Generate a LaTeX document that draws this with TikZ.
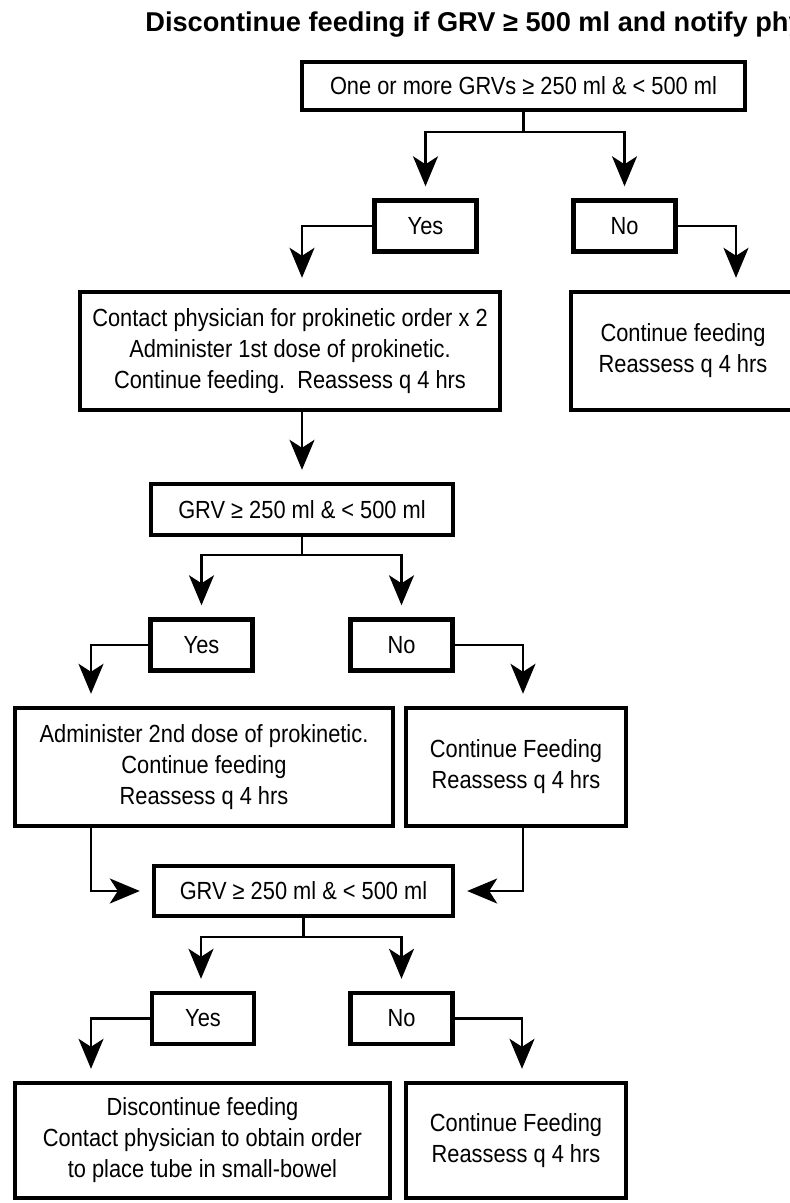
\documentclass[tikz,border=0pt]{standalone}
\usepackage{fontspec}
\setmainfont{Liberation Sans}[FakeStretch=0.88]
\newfontfamily\headfont{Liberation Sans}
\usetikzlibrary{arrows.meta}

\begin{document}
\begin{tikzpicture}[
        x=0.5pt, y=-0.5pt,
        every node/.style={font=\fontsize{12.4}{15.5}\selectfont},
        box/.style={rectangle, draw=black, line width=2.2pt, align=center, inner sep=0pt},
        answer/.style={box, minimum width=51pt, minimum height=25.5pt},
        flow/.style={-{Stealth[length=15pt, width=12.5pt, inset=4pt]}, line width=1.1pt, shorten >=6pt},
        link/.style={line width=1.1pt}
    ]
        \useasboundingbox (0,0) rectangle (790,1203);
        \clip (0,0) rectangle (790,1203);
        \fill[white] (0,0) rectangle (790,1203);

        \node[anchor=base west, inner sep=0pt, font=\headfont\bfseries\fontsize{13.6}{15}\selectfont] (title) at (145,32) {Discontinue feeding if GRV ≥ 500 ml and notify physician};

        \node[box, minimum width=221.5pt, minimum height=24pt] (gate) at (523.5,86) {One or more GRVs ≥ 250 ml \& < 500 ml};
        \node[answer] (yesA) at (425.5,226) {Yes};
        \node[answer] (noA) at (624.5,226) {No};

        \node[box, minimum width=210pt, minimum height=59pt] (prok) at (290,351) {Contact physician for prokinetic order x 2\\Administer 1st dose of prokinetic.\\Continue feeding.\ \ Reassess q 4 hrs};
        \node[box, minimum width=112pt, minimum height=59pt] (contA) at (683,351) {Continue feeding\\Reassess q 4 hrs};

        \node[box, minimum width=151pt, minimum height=25.5pt] (checkA) at (302,509.5) {GRV ≥ 250 ml \& < 500 ml};
        \node[answer] (yesB) at (201.5,645) {Yes};
        \node[answer] (noB) at (401.5,645) {No};

        \node[box, minimum width=189pt, minimum height=59pt] (dose) at (204,767) {Administer 2nd dose of prokinetic.\\Continue feeding\\Reassess q 4 hrs};
        \node[box, minimum width=110pt, minimum height=59pt] (contB) at (516,767) {Continue Feeding\\Reassess q 4 hrs};

        \node[box, minimum width=149.5pt, minimum height=25pt] (checkB) at (303.5,891) {GRV ≥ 250 ml \& < 500 ml};
        \node[answer] (yesC) at (203,1018.5) {Yes};
        \node[answer] (noC) at (401.5,1018.5) {No};

        \node[box, minimum width=187.5pt, minimum height=57.5pt] (stop) at (202.5,1140.5) {Discontinue feeding\\Contact physician to obtain order\\to place tube in small-bowel};
        \node[box, minimum width=110pt, minimum height=57.5pt] (contC) at (516,1140.5) {Continue Feeding\\Reassess q 4 hrs};

        % first question
        \draw[link] (gate.south) -- ++(0,20) coordinate (splitA);
        \draw[flow] (splitA) -| (yesA.north);
        \draw[flow] (splitA) -| (noA.north);
        \draw[flow] (yesA.west) -| (checkA.north |- prok.north);
        \draw[flow] (noA.east) -| ([xshift=26.5pt]contA.north);
        \draw[flow] (checkA.north |- prok.south) -- (checkA.north);

        % second question
        \draw[link] (checkA.south) -- ++(0,18) coordinate (splitB);
        \draw[flow] (splitB) -| (yesB.north);
        \draw[flow] (splitB) -| (noB.north);
        \draw[flow] (yesB.west) -| ([xshift=-56.5pt]dose.north);
        \draw[flow] (noB.east) -| ([xshift=3.5pt]contB.north);
        \draw[flow] ([xshift=-56.5pt]dose.south) |- (checkB.west);
        \draw[flow] ([xshift=3.5pt]contB.south) |- (checkB.east);

        % third question
        \draw[link] (checkB.south) -- ++(0,19) coordinate (splitC);
        \draw[flow] (splitC) -| ([xshift=-1pt]yesC.north);
        \draw[flow] (splitC) -| (noC.north);
        \draw[flow] (yesC.west) -| ([xshift=-55.75pt]stop.north);
        \draw[flow] (noC.east) -| ([xshift=3pt]contC.north);
    \end{tikzpicture}
\end{document}
